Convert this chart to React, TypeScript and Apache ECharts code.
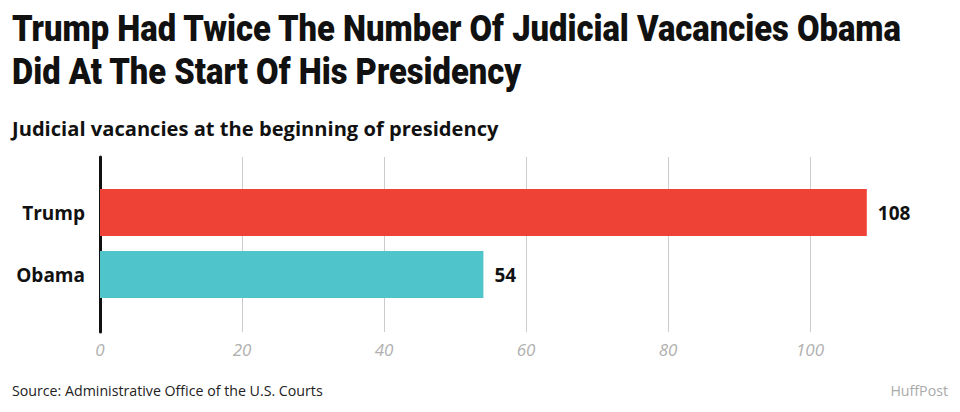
import React, { useEffect, useRef } from "react";
import * as echarts from "echarts";

const categories = ["Trump", "Obama"];
const vacancies = [108, 54];
const barColors = ["#ee4237", "#50c4cb"];
const tickMax = 100;
const scaleMax = 110;
const tickInterval = 20;

const titleLines = [
  "Trump Had Twice The Number Of Judicial Vacancies Obama",
  "Did At The Start Of His Presidency",
];
const subtitleText = "Judicial vacancies at the beginning of presidency";
const sourceText = "Source: Administrative Office of the U.S. Courts";
const creditText = "HuffPost";

function measure(text: string, font: string): number {
  const c = document.createElement("canvas");
  const ctx = c.getContext("2d");
  if (!ctx) return 1;
  ctx.font = font;
  return ctx.measureText(text).width || 1;
}

export default function App() {
  const ref = useRef<HTMLDivElement>(null);
  useEffect(() => {
    if (!ref.current) return;
    const chart = echarts.init(ref.current, null, { renderer: "svg" });
    const pxPerUnit = 7.1;

    const titleFont = "900 37px Roboto";
    const titleScale = 891 / measure(titleLines[0], titleFont);
    const subFont = "bold 19px 'Open Sans'";
    const subScale = 487 / measure(subtitleText, subFont);
    const srcFont = "15px 'Open Sans'";
    const srcScale = 311 / measure(sourceText, srcFont);

    const textEl = (
      text: string,
      x: number,
      y: number,
      scaleX: number,
      family: string,
      size: number,
      weight: string | number,
      color: string,
      align: string = "left"
    ) => ({
      type: "text",
      x,
      y,
      scaleX,
      scaleY: 1,
      style: {
        text,
        fontFamily: family,
        fontSize: size,
        fontWeight: weight,
        fill: color,
        align,
        verticalAlign: "middle",
      },
    });

    chart.setOption({
      animation: false,
      backgroundColor: "#ffffff",
      graphic: [
        textEl(titleLines[0], 12, 29, titleScale, "Roboto", 37, 900, "#111111"),
        textEl(titleLines[1], 12, 72, titleScale, "Roboto", 37, 900, "#111111"),
        textEl(subtitleText, 12, 129, subScale, "Open Sans", 19, "bold", "#111111"),
        textEl(sourceText, 12, 390, srcScale, "Open Sans", 15, "normal", "#222222"),
        textEl(creditText, 948, 390, srcScale, "Open Sans", 15, "normal", "#aaaaaa", "right"),
      ],
      grid: [
        { left: 100, top: 157, height: 175, width: tickMax * pxPerUnit },
        { left: 100, top: 181.5, height: 124, width: scaleMax * pxPerUnit },
      ],
      xAxis: [
        {
          gridIndex: 0,
          type: "value",
          min: 0,
          max: tickMax,
          interval: tickInterval,
          axisLine: { show: false },
          axisTick: { show: false },
          splitLine: { show: true, lineStyle: { color: "#cccccc", width: 1 } },
          axisLabel: {
            margin: 9,
            fontFamily: "Open Sans",
            fontStyle: "italic",
            fontSize: 17,
            color: "#b0b0b0",
          },
        },
        {
          gridIndex: 1,
          type: "value",
          min: 0,
          max: scaleMax,
          show: false,
        },
      ],
      yAxis: [
        {
          gridIndex: 0,
          type: "value",
          axisLine: { show: true, lineStyle: { color: "#111111", width: 3 } },
          axisTick: { show: false },
          axisLabel: { show: false },
          splitLine: { show: false },
        },
        {
          gridIndex: 1,
          type: "category",
          inverse: true,
          data: categories,
          axisLine: { show: false },
          axisTick: { show: false },
          axisLabel: {
            margin: 15,
            fontFamily: "Open Sans",
            fontWeight: "bold",
            fontSize: 19,
            color: "#111111",
          },
        },
      ],
      series: [
        {
          type: "bar",
          xAxisIndex: 1,
          yAxisIndex: 1,
          barWidth: 47,
          data: vacancies.map((v, i) => ({ value: v, itemStyle: { color: barColors[i] } })),
          label: {
            show: true,
            position: "right",
            distance: 11,
            fontFamily: "Open Sans",
            fontWeight: "bold",
            fontSize: 19,
            color: "#111111",
          },
        },
      ],
    });
    return () => chart.dispose();
  }, []);
  return (
    <div
      ref={ref}
      style={{ position: "fixed", left: 0, top: 0, width: 960, height: 412 }}
    />
  );
}
